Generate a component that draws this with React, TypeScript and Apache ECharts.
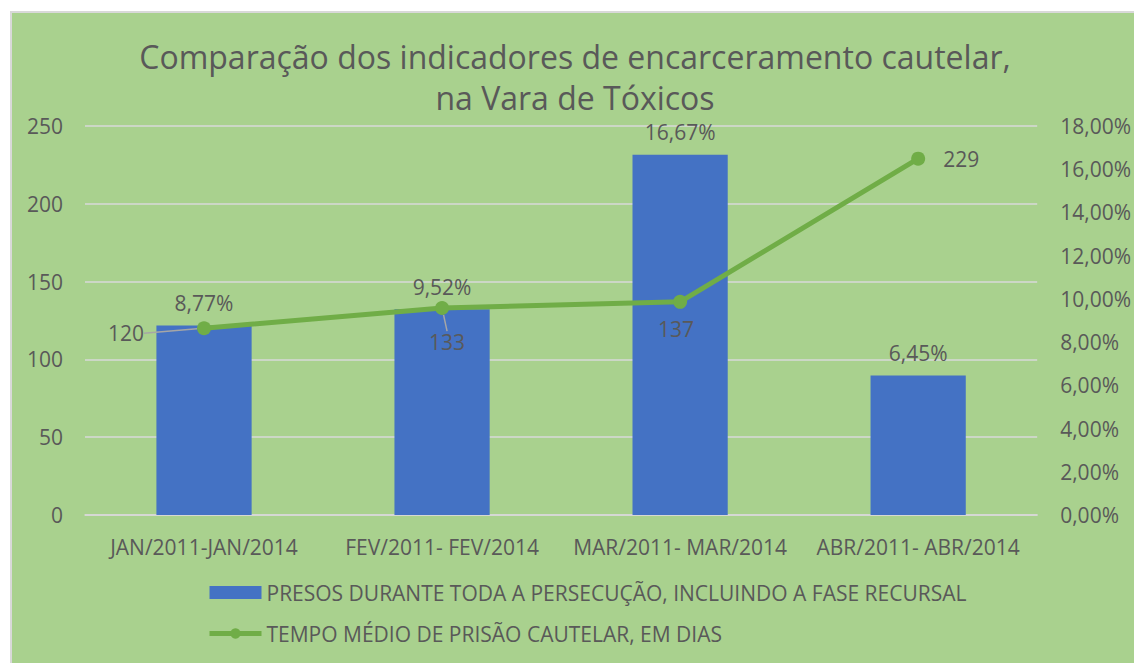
import React, { useEffect, useRef } from "react";
import * as echarts from "echarts";

const categories = [
  "JAN/2011-JAN/2014",
  "FEV/2011- FEV/2014",
  "MAR/2011- MAR/2014",
  "ABR/2011- ABR/2014",
];
const presosPct = [8.77, 9.52, 16.67, 6.45];
const tempoDias = [120, 133, 137, 229];
const barName = "PRESOS DURANTE TODA A PERSECUÇÃO, INCLUINDO A FASE RECURSAL";
const lineName = "TEMPO MÉDIO DE PRISÃO CAUTELAR, EM DIAS";
const titleText = "Comparação dos indicadores de encarceramento cautelar,\nna Vara de Tóxicos";

const FONT = "Open Sans";
const TXT = "#595959";
const pct = (v: number) => v.toFixed(2).replace(".", ",") + "%";

export default function App() {
  const ref = useRef<HTMLDivElement>(null);
  useEffect(() => {
    if (!ref.current) return;
    const chart = echarts.init(ref.current, undefined, { renderer: "svg" });
    const lineLabelPos = ["left", "bottom", "bottom", "right"];
    const lineLabelDist = [8, 6, 10, 16];
    const lineLabelGuide = [true, true, false, false];
    const lineLabelShift = [
      { dx: -45, dy: 5 },
      { dx: 5, dy: 10 },
      { dx: -4, dy: 0 },
      { dx: 2, dy: 0 },
    ];
    chart.setOption({
      animation: false,
      backgroundColor: "#a9d18e",
      textStyle: { fontFamily: FONT, color: TXT },
      title: {
        text: titleText,
        left: 563,
        textAlign: "center",
        top: 23,
        padding: 0,
        textStyle: {
          fontFamily: FONT,
          fontSize: 32,
          fontWeight: "normal",
          color: TXT,
          lineHeight: 41,
        },
      },
      grid: { left: 73, right: 95, top: 113, height: 389, containLabel: false },
      legend: {
        orient: "vertical",
        left: 195,
        top: 568,
        padding: 0,
        itemWidth: 52,
        itemHeight: 13,
        itemGap: 18,
        textStyle: { fontFamily: FONT, fontSize: 21, color: TXT, lineHeight: 23 },
        data: [
          { name: barName, icon: "rect" },
          { name: lineName, lineStyle: { width: 5, color: "#70ad47" } },
        ],
      },
      xAxis: {
        type: "category",
        data: categories,
        axisLine: { show: true, lineStyle: { color: "#d9d9d9", width: 1.5 } },
        axisTick: { show: false },
        axisLabel: { fontFamily: FONT, fontSize: 21, color: TXT, margin: 21, interval: 0 },
      },
      yAxis: [
        {
          type: "value",
          min: 0,
          max: 250,
          interval: 50,
          axisLine: { show: false },
          axisTick: { show: false },
          splitLine: { lineStyle: { color: "#d9d9d9", width: 1.5 } },
          axisLabel: { fontFamily: FONT, fontSize: 21, color: TXT, margin: 22 },
        },
        {
          type: "value",
          min: 0,
          max: 18,
          interval: 2,
          axisLine: { show: false },
          axisTick: { show: false },
          splitLine: { show: false },
          axisLabel: {
            fontFamily: FONT,
            fontSize: 21,
            color: TXT,
            margin: 23,
            formatter: (v: number) => pct(v),
          },
        },
      ],
      series: [
        {
          name: barName,
          type: "bar",
          yAxisIndex: 1,
          data: presosPct,
          barWidth: "40%",
          itemStyle: { color: "#4472c4" },
          label: {
            show: true,
            position: "top",
            distance: 12,
            fontFamily: FONT,
            fontSize: 21,
            color: TXT,
            formatter: (p: any) => pct(p.value),
          },
          z: 2,
        },
        {
          name: lineName,
          type: "line",
          yAxisIndex: 0,
          data: tempoDias.map((v, i) => ({
            value: v,
            label: { position: lineLabelPos[i], distance: lineLabelDist[i] },
            labelLine: { show: lineLabelGuide[i] },
          })),
          symbol: "circle",
          symbolSize: 14,
          lineStyle: { color: "#70ad47", width: 5 },
          itemStyle: { color: "#70ad47" },
          label: {
            show: true,
            fontFamily: FONT,
            fontSize: 21,
            color: TXT,
          },
          labelLine: { show: true, lineStyle: { color: "#a6a6a6", width: 1.5 } },
          labelLayout: (p: any) => lineLabelShift[p.dataIndex],
          z: 3,
        },
      ],
    });
    return () => chart.dispose();
  }, []);
  return (
    <div
      style={{
        position: "fixed",
        left: 0,
        top: 0,
        width: 1134,
        height: 663,
        background: "#ffffff",
        overflow: "hidden",
      }}
    >
      <div
        style={{
          position: "absolute",
          left: 10,
          top: 11,
          width: 1124,
          height: 652,
          borderLeft: "2px solid #d9d9d9",
          borderTop: "2px solid #d9d9d9",
          boxSizing: "border-box",
        }}
      >
        <div ref={ref} style={{ width: 1122, height: 650 }} />
      </div>
    </div>
  );
}
